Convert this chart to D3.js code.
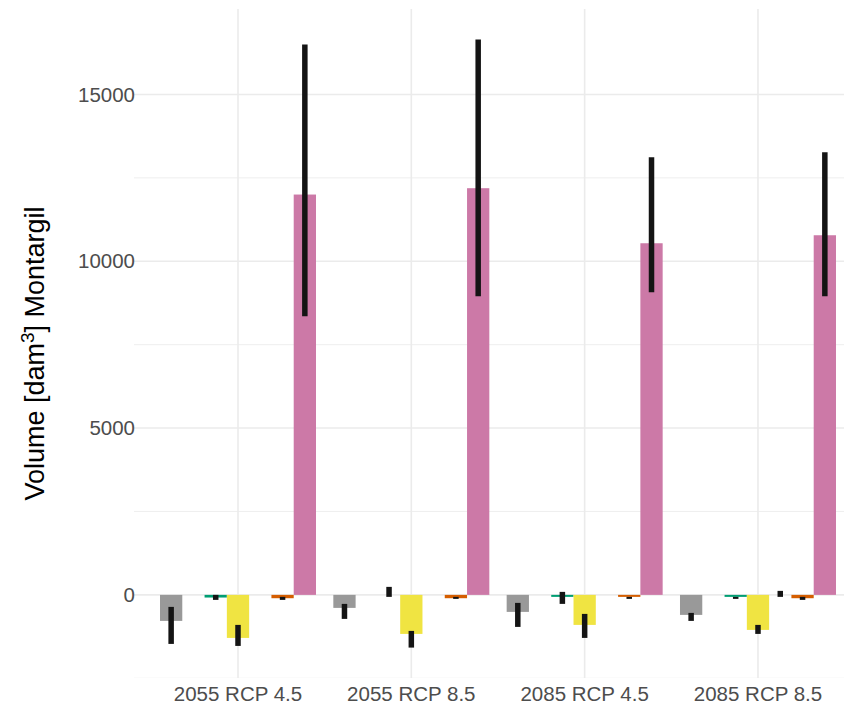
<!DOCTYPE html>
<html>
<head>
<meta charset="utf-8">
<script src="https://cdn.jsdelivr.net/npm/d3@7"></script>
<style>
  html, body { margin: 0; padding: 0; background: #fff; }
  svg { display: block; }
  text { font-family: "Liberation Sans", Arial, sans-serif; }
</style>
</head>
<body>
<svg id="chart" width="844" height="713"></svg>
<script>
// Scenario groups along the x axis
const scenarios = ["2055 RCP 4.5", "2055 RCP 8.5", "2085 RCP 4.5", "2085 RCP 8.5"];

// Balance components (dodged within each scenario) and their fill colours
const components = ["c1", "c2", "c3", "c4", "c5", "c6", "c7"];
const componentColors = ["#999999", "#56B4E9", "#009E73", "#F0E442", "#0072B2", "#D55E00", "#CC79A7"];

// Mean change per component, one value per scenario [dam3]
const c1Mean = [-780, -390, -510, -600];
const c2Mean = [0, 0, 0, 0];
const c3Mean = [-80, 0, -60, -60];
const c4Mean = [-1290, -1170, -900, -1050];
const c5Mean = [0, 0, 0, 0];
const c6Mean = [-100, -100, -60, -100];
const c7Mean = [12000, 12190, 10540, 10780];

// Lower / upper bounds of the range (null = no range drawn)
const c1Low = [-1470, -720, -960, -780];
const c1High = [-360, -270, -240, -540];
const c2Low = [null, null, null, null];
const c2High = [null, null, null, null];
const c3Low = [-150, -60, -270, -120];
const c3High = [0, 240, 90, -60];
const c4Low = [-1530, -1580, -1290, -1170];
const c4High = [-900, -1080, -570, -900];
const c5Low = [null, null, null, -60];
const c5High = [null, null, null, 120];
const c6Low = [-150, -120, -120, -150];
const c6High = [-60, -60, -60, -60];
const c7Low = [8350, 8950, 9070, 8950];
const c7High = [16500, 16650, 13120, 13270];

// Y axis ticks
const yMajor = [0, 5000, 10000, 15000];
const yMinor = [-2500, 2500, 7500, 12500];

const means = [c1Mean, c2Mean, c3Mean, c4Mean, c5Mean, c6Mean, c7Mean];
const lows = [c1Low, c2Low, c3Low, c4Low, c5Low, c6Low, c7Low];
const highs = [c1High, c2High, c3High, c4High, c5High, c6High, c7High];

// Long-format rows built from the arrays above
const rows = [];
scenarios.forEach((s, i) => {
  components.forEach((c, j) => {
    rows.push({ scenario: s, component: c, color: componentColors[j],
                value: means[j][i], low: lows[j][i], high: highs[j][i] });
  });
});

const svg = d3.select("#chart");
const panel = { left: 134, top: 9, bottom: 678 };
const step = 173.33;
const panelWidth = step * (scenarios.length + 0.2);
const panelRight = panel.left + panelWidth;

// Discrete x scale with 0.6 step expansion on each side
const x = d3.scaleBand().domain(scenarios)
  .range([panel.left, panelRight]).paddingInner(0).paddingOuter(0.1);
const xInner = d3.scaleBand().domain(components)
  .range([-0.45 * x.bandwidth(), 0.45 * x.bandwidth()]).padding(0);

// Continuous y scale with 5% expansion of the data range
const allVals = rows.flatMap(r => [r.value, r.low, r.high]).filter(v => v != null).concat([0]);
const yMin = d3.min(allVals), yMax = d3.max(allVals);
const pad = (yMax - yMin) * 0.05;
const y = d3.scaleLinear().domain([yMin - pad, yMax + pad]).range([panel.bottom, panel.top]);

svg.append("clipPath").attr("id", "panelClip")
  .append("rect").attr("x", panel.left).attr("y", panel.top)
  .attr("width", panelWidth).attr("height", panel.bottom - panel.top);

const grid = svg.append("g").attr("clip-path", "url(#panelClip)");
grid.selectAll("line.minor").data(yMinor).join("line")
  .attr("x1", panel.left).attr("x2", panelRight)
  .attr("y1", d => y(d)).attr("y2", d => y(d))
  .attr("stroke", "#EBEBEB").attr("stroke-width", 0.8);
grid.selectAll("line.major").data(yMajor).join("line")
  .attr("x1", panel.left).attr("x2", panelRight)
  .attr("y1", d => y(d)).attr("y2", d => y(d))
  .attr("stroke", "#EBEBEB").attr("stroke-width", 1.6);
grid.selectAll("line.vmajor").data(scenarios).join("line")
  .attr("x1", d => x(d) + x.bandwidth() / 2).attr("x2", d => x(d) + x.bandwidth() / 2)
  .attr("y1", panel.top).attr("y2", panel.bottom)
  .attr("stroke", "#EBEBEB").attr("stroke-width", 1.6);

const cx = r => x(r.scenario) + x.bandwidth() / 2 + xInner(r.component) + xInner.bandwidth() / 2;

// Bars
svg.append("g").selectAll("rect").data(rows).join("rect")
  .attr("x", r => x(r.scenario) + x.bandwidth() / 2 + xInner(r.component))
  .attr("width", xInner.bandwidth())
  .attr("y", r => y(Math.max(0, r.value)))
  .attr("height", r => Math.abs(y(r.value) - y(0)))
  .attr("fill", r => r.color);

// Ranges
svg.append("g").selectAll("line").data(rows.filter(r => r.low != null)).join("line")
  .attr("x1", cx).attr("x2", cx)
  .attr("y1", r => y(r.low)).attr("y2", r => y(r.high))
  .attr("stroke", "#141414").attr("stroke-width", 5.5);

// Y tick labels
svg.append("g").selectAll("text").data(yMajor).join("text")
  .attr("x", panel.left + 1).attr("y", d => y(d))
  .attr("dy", "0.35em").attr("text-anchor", "end")
  .attr("font-size", 20.5).attr("fill", "#4D4D4D")
  .text(d => d);

// X tick labels
svg.append("g").selectAll("text").data(scenarios).join("text")
  .attr("x", d => x(d) + x.bandwidth() / 2).attr("y", panel.bottom + 23)
  .attr("text-anchor", "middle")
  .attr("font-size", 20.5).attr("fill", "#4D4D4D")
  .text(d => d);

// Y axis title with superscript
const title = svg.append("text")
  .attr("transform", `translate(44,${(panel.top + panel.bottom) / 2 + 10}) rotate(-90)`)
  .attr("text-anchor", "middle").attr("font-size", 27).attr("fill", "#000");
title.append("tspan").text("Volume [dam");
title.append("tspan").attr("dy", -10).attr("font-size", 19).text("3");
title.append("tspan").attr("dy", 10).text("] Montargil");
</script>
</body>
</html>
